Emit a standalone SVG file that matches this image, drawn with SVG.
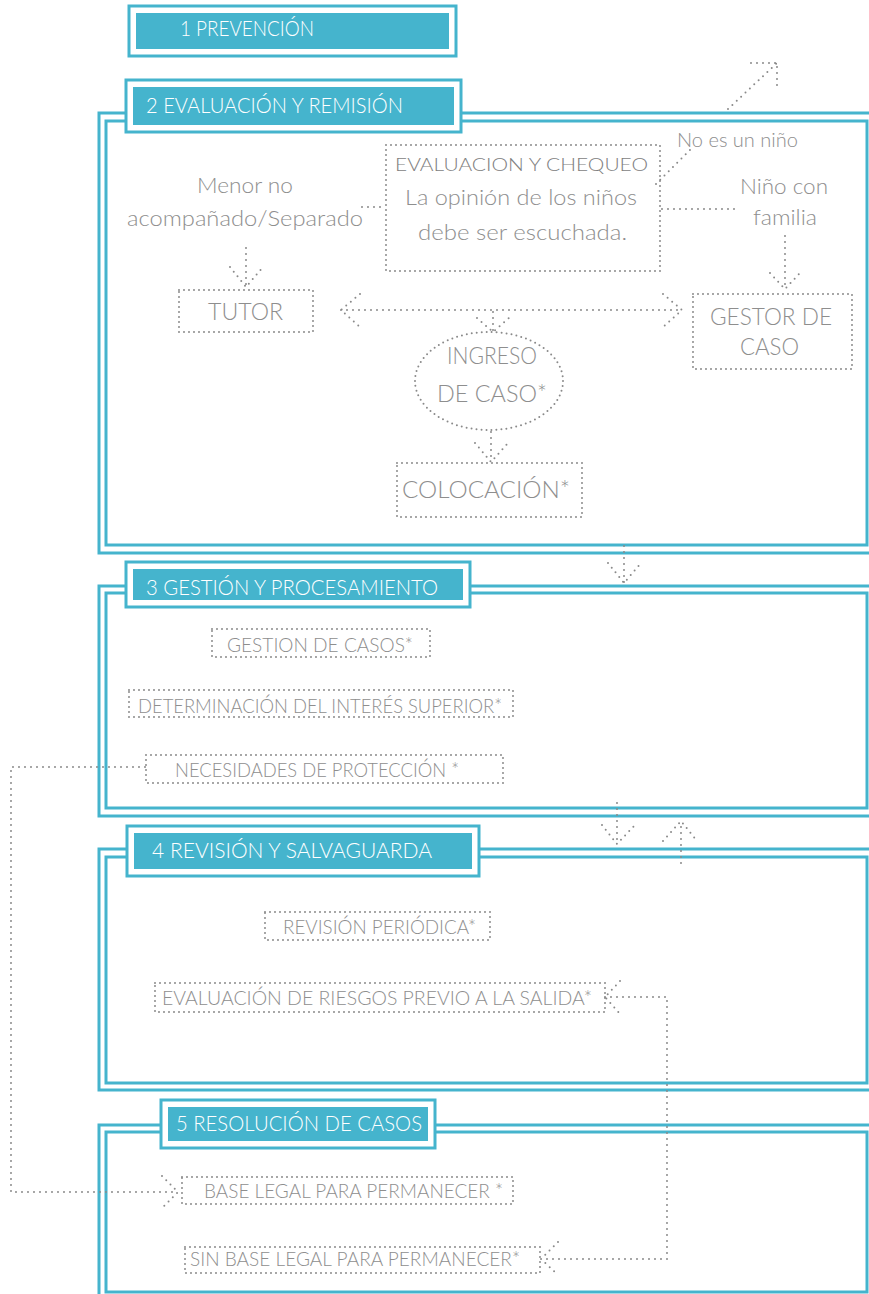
<svg xmlns="http://www.w3.org/2000/svg" width="869" height="1294" viewBox="0 0 869 1294">
<style>
.fr{fill:none;stroke:#45B4CD;stroke-width:3}
.ho{fill:#fff;stroke:#45B4CD;stroke-width:3}
.hi{fill:#45B4CD}
.ht{font-family:"Lato","Liberation Sans",sans-serif;font-weight:300;font-size:22px;fill:#fff}
.dot{fill:none;stroke:#8a8a8a;stroke-width:2;stroke-linecap:round;stroke-dasharray:0 6}
.box{fill:none;stroke:#8a8a8a;stroke-width:2;stroke-linecap:round;stroke-dasharray:0 5}
.t{font-family:"Lato","Liberation Sans",sans-serif;font-weight:300;fill:#8e8e8e}
.s21{font-size:21px}
.s24{font-size:24px}
.s19{font-size:19px}
.s20{font-size:20px}
.s18{font-size:18px;fill:#7e7e7e}
</style>
<rect width="869" height="1294" fill="#fff"/>

<g id="frames">
  <rect class="fr" x="99" y="113" width="790" height="440"/>
  <rect class="fr" x="106" y="121" width="761" height="424"/>
  <rect class="fr" x="99" y="586" width="790" height="230"/>
  <rect class="fr" x="106" y="593" width="761" height="215"/>
  <rect class="fr" x="99" y="849" width="790" height="241"/>
  <rect class="fr" x="106" y="857" width="761" height="226"/>
  <rect class="fr" x="99" y="1125" width="790" height="200"/>
  <rect class="fr" x="106" y="1132" width="761" height="160"/>
</g>

<g id="connectors">
  <path class="dot" d="M362 207 H386"/>
  <path class="dot" d="M656 184 L694 146"/>
  <path class="dot" d="M728 109 L777 63 M751 63 H777 V89"/>
  <path class="dot" d="M662 209 H738"/>
  <path class="dot" d="M785 236 V289 M770 273 L785 289 L800 273"/>
  <path class="dot" d="M246 248 V287 M230 267 L246 287 L263 267"/>
  <path class="dot" d="M341 310 H682 M360 294 L341 310 L360 327 M663 294 L682 310 L663 327"/>
  <path class="dot" d="M493 312 V332 M477 318 L493 332 L509 318"/>
  <path class="dot" d="M491 432 V462 M475 443 L491 462 L508 443"/>
  <path class="dot" d="M624 546 V583 M608 563 L624 583 L641 563"/>
  <path class="dot" d="M617 803 V844 M602 825 L617 844 L635 825"/>
  <path class="dot" d="M681 863 V821 M663 841 L681 821 L697 841"/>
  <path class="dot" d="M145 767 H11 V1192 H178 M162 1176 L178 1192 L162 1208"/>
  <path class="dot" d="M605 997 H667 V1259 H541 M620 981 L605 997 L620 1014 M558 1242 L541 1259 L558 1275"/>
</g>

<g id="h1">
  <rect class="ho" x="129" y="6" width="327" height="50"/>
  <rect class="hi" x="136" y="13" width="313" height="36"/>
  <text class="ht" x="180" y="36" textLength="134" lengthAdjust="spacingAndGlyphs">1 PREVENCIÓN</text>
</g>
<g id="h2">
  <rect class="ho" x="126" y="80" width="335" height="52"/>
  <rect class="hi" x="133" y="87" width="321" height="38"/>
  <text class="ht" x="146" y="113" textLength="257" lengthAdjust="spacingAndGlyphs">2 EVALUACIÓN Y REMISIÓN</text>
</g>
<g id="h3">
  <rect class="ho" x="126" y="562" width="344" height="45"/>
  <rect class="hi" x="133" y="569" width="330" height="31"/>
  <text class="ht" x="146" y="595" textLength="292" lengthAdjust="spacingAndGlyphs">3 GESTIÓN Y PROCESAMIENTO</text>
</g>
<g id="h4">
  <rect class="ho" x="127" y="826" width="352" height="50"/>
  <rect class="hi" x="134" y="833" width="338" height="36"/>
  <text class="ht" x="152" y="858" textLength="280" lengthAdjust="spacingAndGlyphs">4 REVISIÓN Y SALVAGUARDA</text>
</g>
<g id="h5">
  <rect class="ho" x="161" y="1100" width="274" height="48"/>
  <rect class="hi" x="168" y="1107" width="260" height="34"/>
  <text class="ht" x="176" y="1131" textLength="246" lengthAdjust="spacingAndGlyphs">5 RESOLUCIÓN DE CASOS</text>
</g>

<g id="menor">
  <text class="t s21" x="245" y="193" text-anchor="middle" textLength="96" lengthAdjust="spacingAndGlyphs">Menor no</text>
  <text class="t s21" x="245" y="226" text-anchor="middle" textLength="236" lengthAdjust="spacingAndGlyphs">acompañado/Separado</text>
</g>
<g id="evaluacion">
  <rect class="box" x="386" y="145" width="274" height="126"/>
  <text class="t s18" x="395" y="171" textLength="253" lengthAdjust="spacingAndGlyphs">EVALUACION Y CHEQUEO</text>
  <text class="t s21" x="405" y="205" textLength="232" lengthAdjust="spacingAndGlyphs">La opinión de los niños</text>
  <text class="t s21" x="418" y="240" textLength="209" lengthAdjust="spacingAndGlyphs">debe ser escuchada.</text>
</g>
<g id="noesnino">
  <text class="t s19" x="677" y="147" textLength="121" lengthAdjust="spacingAndGlyphs">No es un niño</text>
</g>
<g id="ninofamilia">
  <text class="t s21" x="740" y="194" textLength="88" lengthAdjust="spacingAndGlyphs">Niño con</text>
  <text class="t s21" x="753" y="225" textLength="64" lengthAdjust="spacingAndGlyphs">familia</text>
</g>
<g id="tutor">
  <rect class="box" x="179" y="290" width="134" height="42"/>
  <text class="t s24" x="208" y="320" textLength="75" lengthAdjust="spacingAndGlyphs">TUTOR</text>
</g>
<g id="gestor">
  <rect class="box" x="693" y="294" width="159" height="75"/>
  <text class="t s24" x="710" y="325" textLength="122" lengthAdjust="spacingAndGlyphs">GESTOR DE</text>
  <text class="t s24" x="740" y="355" textLength="59" lengthAdjust="spacingAndGlyphs">CASO</text>
</g>
<g id="ingreso">
  <ellipse class="box" cx="489" cy="381" rx="74" ry="49"/>
  <text class="t s24" x="447" y="364" textLength="90" lengthAdjust="spacingAndGlyphs">INGRESO</text>
  <text class="t s24" x="437" y="402" textLength="110" lengthAdjust="spacingAndGlyphs">DE CASO*</text>
</g>
<g id="colocacion">
  <rect class="box" x="397" y="463" width="185" height="54"/>
  <text class="t s24" x="402" y="498" textLength="168" lengthAdjust="spacingAndGlyphs">COLOCACIÓN*</text>
</g>

<g id="gestioncasos">
  <rect class="box" x="212" y="629" width="218" height="28"/>
  <text class="t s20" x="227" y="652" textLength="186" lengthAdjust="spacingAndGlyphs">GESTION DE CASOS*</text>
</g>
<g id="determinacion">
  <rect class="box" x="129" y="690" width="384" height="27"/>
  <text class="t s20" x="138" y="713" textLength="364" lengthAdjust="spacingAndGlyphs">DETERMINACIÓN DEL INTERÉS SUPERIOR*</text>
</g>
<g id="necesidades">
  <rect class="box" x="146" y="755" width="357" height="28"/>
  <text class="t s20" x="175" y="777" textLength="284" lengthAdjust="spacingAndGlyphs">NECESIDADES DE PROTECCIÓN *</text>
</g>

<g id="revision">
  <rect class="box" x="265" y="912" width="225" height="28"/>
  <text class="t s20" x="283" y="934" textLength="193" lengthAdjust="spacingAndGlyphs">REVISIÓN PERIÓDICA*</text>
</g>
<g id="riesgos">
  <rect class="box" x="155" y="983" width="450" height="29"/>
  <text class="t s20" x="162" y="1005" textLength="430" lengthAdjust="spacingAndGlyphs">EVALUACIÓN DE RIESGOS PREVIO A LA SALIDA*</text>
</g>

<g id="baselegal">
  <rect class="box" x="182" y="1177" width="331" height="27"/>
  <text class="t s20" x="204" y="1198" textLength="299" lengthAdjust="spacingAndGlyphs">BASE LEGAL PARA PERMANECER *</text>
</g>
<g id="sinbaselegal">
  <rect class="box" x="185" y="1247" width="355" height="26"/>
  <text class="t s20" x="190" y="1266" textLength="330" lengthAdjust="spacingAndGlyphs">SIN BASE LEGAL PARA PERMANECER*</text>
</g>
</svg>
